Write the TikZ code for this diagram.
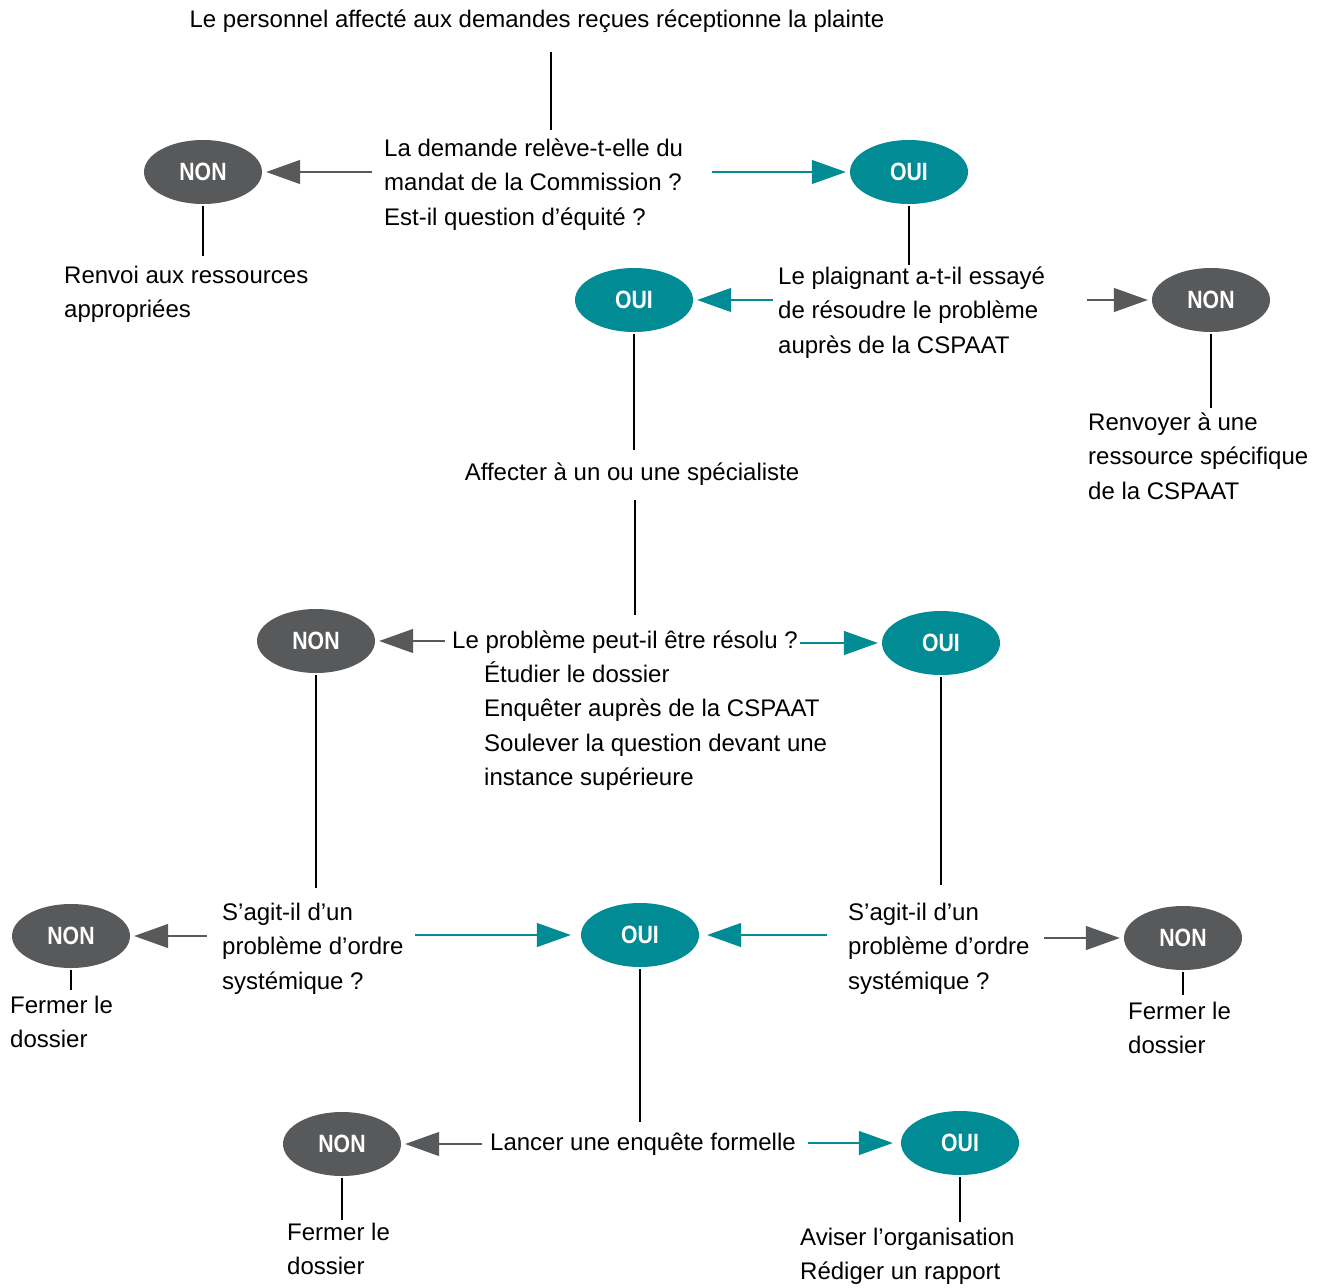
\documentclass[tikz,border=0pt]{standalone}
\usepackage{fontspec}
\setmainfont{Liberation Sans}
\newfontfamily\lblfont{Liberation Sans}[FakeStretch=0.85]
\usetikzlibrary{shapes.geometric,arrows.meta}
\definecolor{dgrey}{HTML}{58595B}
\definecolor{tealc}{HTML}{008B95}
\tikzset{
 txt/.style={anchor=base west, align=left, inner sep=0pt, yshift=2pt, font=\fontsize{24}{34.5}\selectfont},
 ctxt/.style={anchor=base, inner sep=0pt, yshift=2pt, font=\fontsize{24}{34.5}\selectfont},
 nonell/.style={ellipse, fill=dgrey, minimum width=118pt, minimum height=64pt, inner sep=0pt, text=white, font=\lblfont\bfseries\fontsize{25}{28}\selectfont},
 ouiell/.style={nonell, fill=tealc},
 garrow/.style={draw=dgrey, line width=1.3pt, -{Triangle[length=34pt,width=24pt]}, shorten >=4pt},
 tarrow/.style={garrow, draw=tealc},
 vline/.style={draw=black, line width=1.3pt, shorten <=2pt}
}
\begin{document}
\begin{tikzpicture}[x=1pt,y=-1pt]
\useasboundingbox (0,0) rectangle (1327,1287);
% texts (base anchor = baseline of last line)
\node[ctxt] (title) at (537,30) {Le personnel affecté aux demandes reçues réceptionne la plainte};
\node[txt] (q1) at (384,227) {La demande relève-t-elle du\\mandat de la Commission ?\\Est-il question d’équité ?};
\node[txt] (r1) at (64,319.5) {Renvoi aux ressources\\appropriées};
\node[txt] (q2) at (778,355) {Le plaignant a-t-il essayé\\de résoudre le problème\\auprès de la CSPAAT};
\node[txt] (r2) at (1088,501) {Renvoyer à une\\ressource spécifique\\de la CSPAAT};
\node[ctxt] (aff) at (632,482) {Affecter à un ou une spécialiste};
\node[txt] (q3) at (452,650) {Le problème peut-il être résolu ?};
\node[txt] (q3b) at (484,787.5) {Étudier le dossier\\Enquêter auprès de la CSPAAT\\Soulever la question devant une\\instance supérieure};
\node[txt] (q4l) at (222,991) {S’agit-il d’un\\problème d’ordre\\systémique ?};
\node[txt] (q4r) at (848,991) {S’agit-il d’un\\problème d’ordre\\systémique ?};
\node[txt] (f1) at (10,1049.5) {Fermer le\\dossier};
\node[txt] (f2) at (1128,1055.5) {Fermer le\\dossier};
\node[txt] (lan) at (490,1152) {Lancer une enquête formelle};
\node[txt] (f3) at (287,1276.5) {Fermer le\\dossier};
\node[txt] (av) at (800,1281.5) {Aviser l’organisation\\Rédiger un rapport};
% ellipses
\node[nonell] (non1) at (203,172) {NON};
\node[ouiell] (oui1) at (909,172) {OUI};
\node[ouiell] (oui2) at (634,300) {OUI};
\node[nonell] (non2) at (1211,300) {NON};
\node[nonell] (non3) at (316,641) {NON};
\node[ouiell] (oui3) at (941,643) {OUI};
\node[nonell] (non4) at (71,936) {NON};
\node[ouiell] (oui4) at (640,935) {OUI};
\node[nonell] (non5) at (1183,938) {NON};
\node[nonell] (non6) at (342,1144) {NON};
\node[ouiell] (oui6) at (960,1143) {OUI};
% coordinates
\coordinate (v0a) at (551,52);
\coordinate (v0b) at (551,130);
\coordinate (a1) at (372,172);
\coordinate (a2) at (712,172);
\coordinate (v1) at (203,256);
\coordinate (v2) at (909,265);
\coordinate (a3) at (773,300);
\coordinate (a4) at (1087,300);
\coordinate (v3) at (1211,408);
\coordinate (v4) at (634,450);
\coordinate (v5a) at (635,500);
\coordinate (v5b) at (635,615);
\coordinate (a5) at (445,641);
\coordinate (a6) at (800,643);
\coordinate (v6) at (316,888);
\coordinate (v7) at (941,885);
\coordinate (a7) at (207,936);
\coordinate (v8) at (71,990);
\coordinate (a8) at (415,935);
\coordinate (a9) at (827,935);
\coordinate (a10) at (1044,938);
\coordinate (v9) at (1183,995);
\coordinate (v10) at (640,1122);
\coordinate (a11) at (482,1144);
\coordinate (a12) at (808,1143);
\coordinate (v11) at (342,1220);
\coordinate (v12) at (960,1222);
% lines
\draw[vline, shorten <=0pt] (v0a) -- (v0b);
\draw[garrow] (a1) -- (non1);
\draw[tarrow] (a2) -- (oui1);
\draw[vline] (non1.south) -- (v1);
\draw[vline] (oui1.south) -- (v2);
\draw[tarrow] (a3) -- (oui2);
\draw[garrow] (a4) -- (non2);
\draw[vline] (non2.south) -- (v3);
\draw[vline] (oui2.south) -- (v4);
\draw[vline, shorten <=0pt] (v5a) -- (v5b);
\draw[garrow] (a5) -- (non3);
\draw[tarrow] (a6) -- (oui3);
\draw[vline] (non3.south) -- (v6);
\draw[vline] (oui3.south) -- (v7);
\draw[garrow] (a7) -- (non4);
\draw[vline] (non4.south) -- (v8);
\draw[tarrow, shorten >=10pt] (a8) -- (oui4);
\draw[tarrow, shorten >=8pt] (a9) -- (oui4);
\draw[garrow] (a10) -- (non5);
\draw[vline] (non5.south) -- (v9);
\draw[vline] (oui4.south) -- (v10);
\draw[garrow] (a11) -- (non6);
\draw[tarrow, shorten >=8pt] (a12) -- (oui6);
\draw[vline] (non6.south) -- (v11);
\draw[vline] (oui6.south) -- (v12);
\end{tikzpicture}
\end{document}
